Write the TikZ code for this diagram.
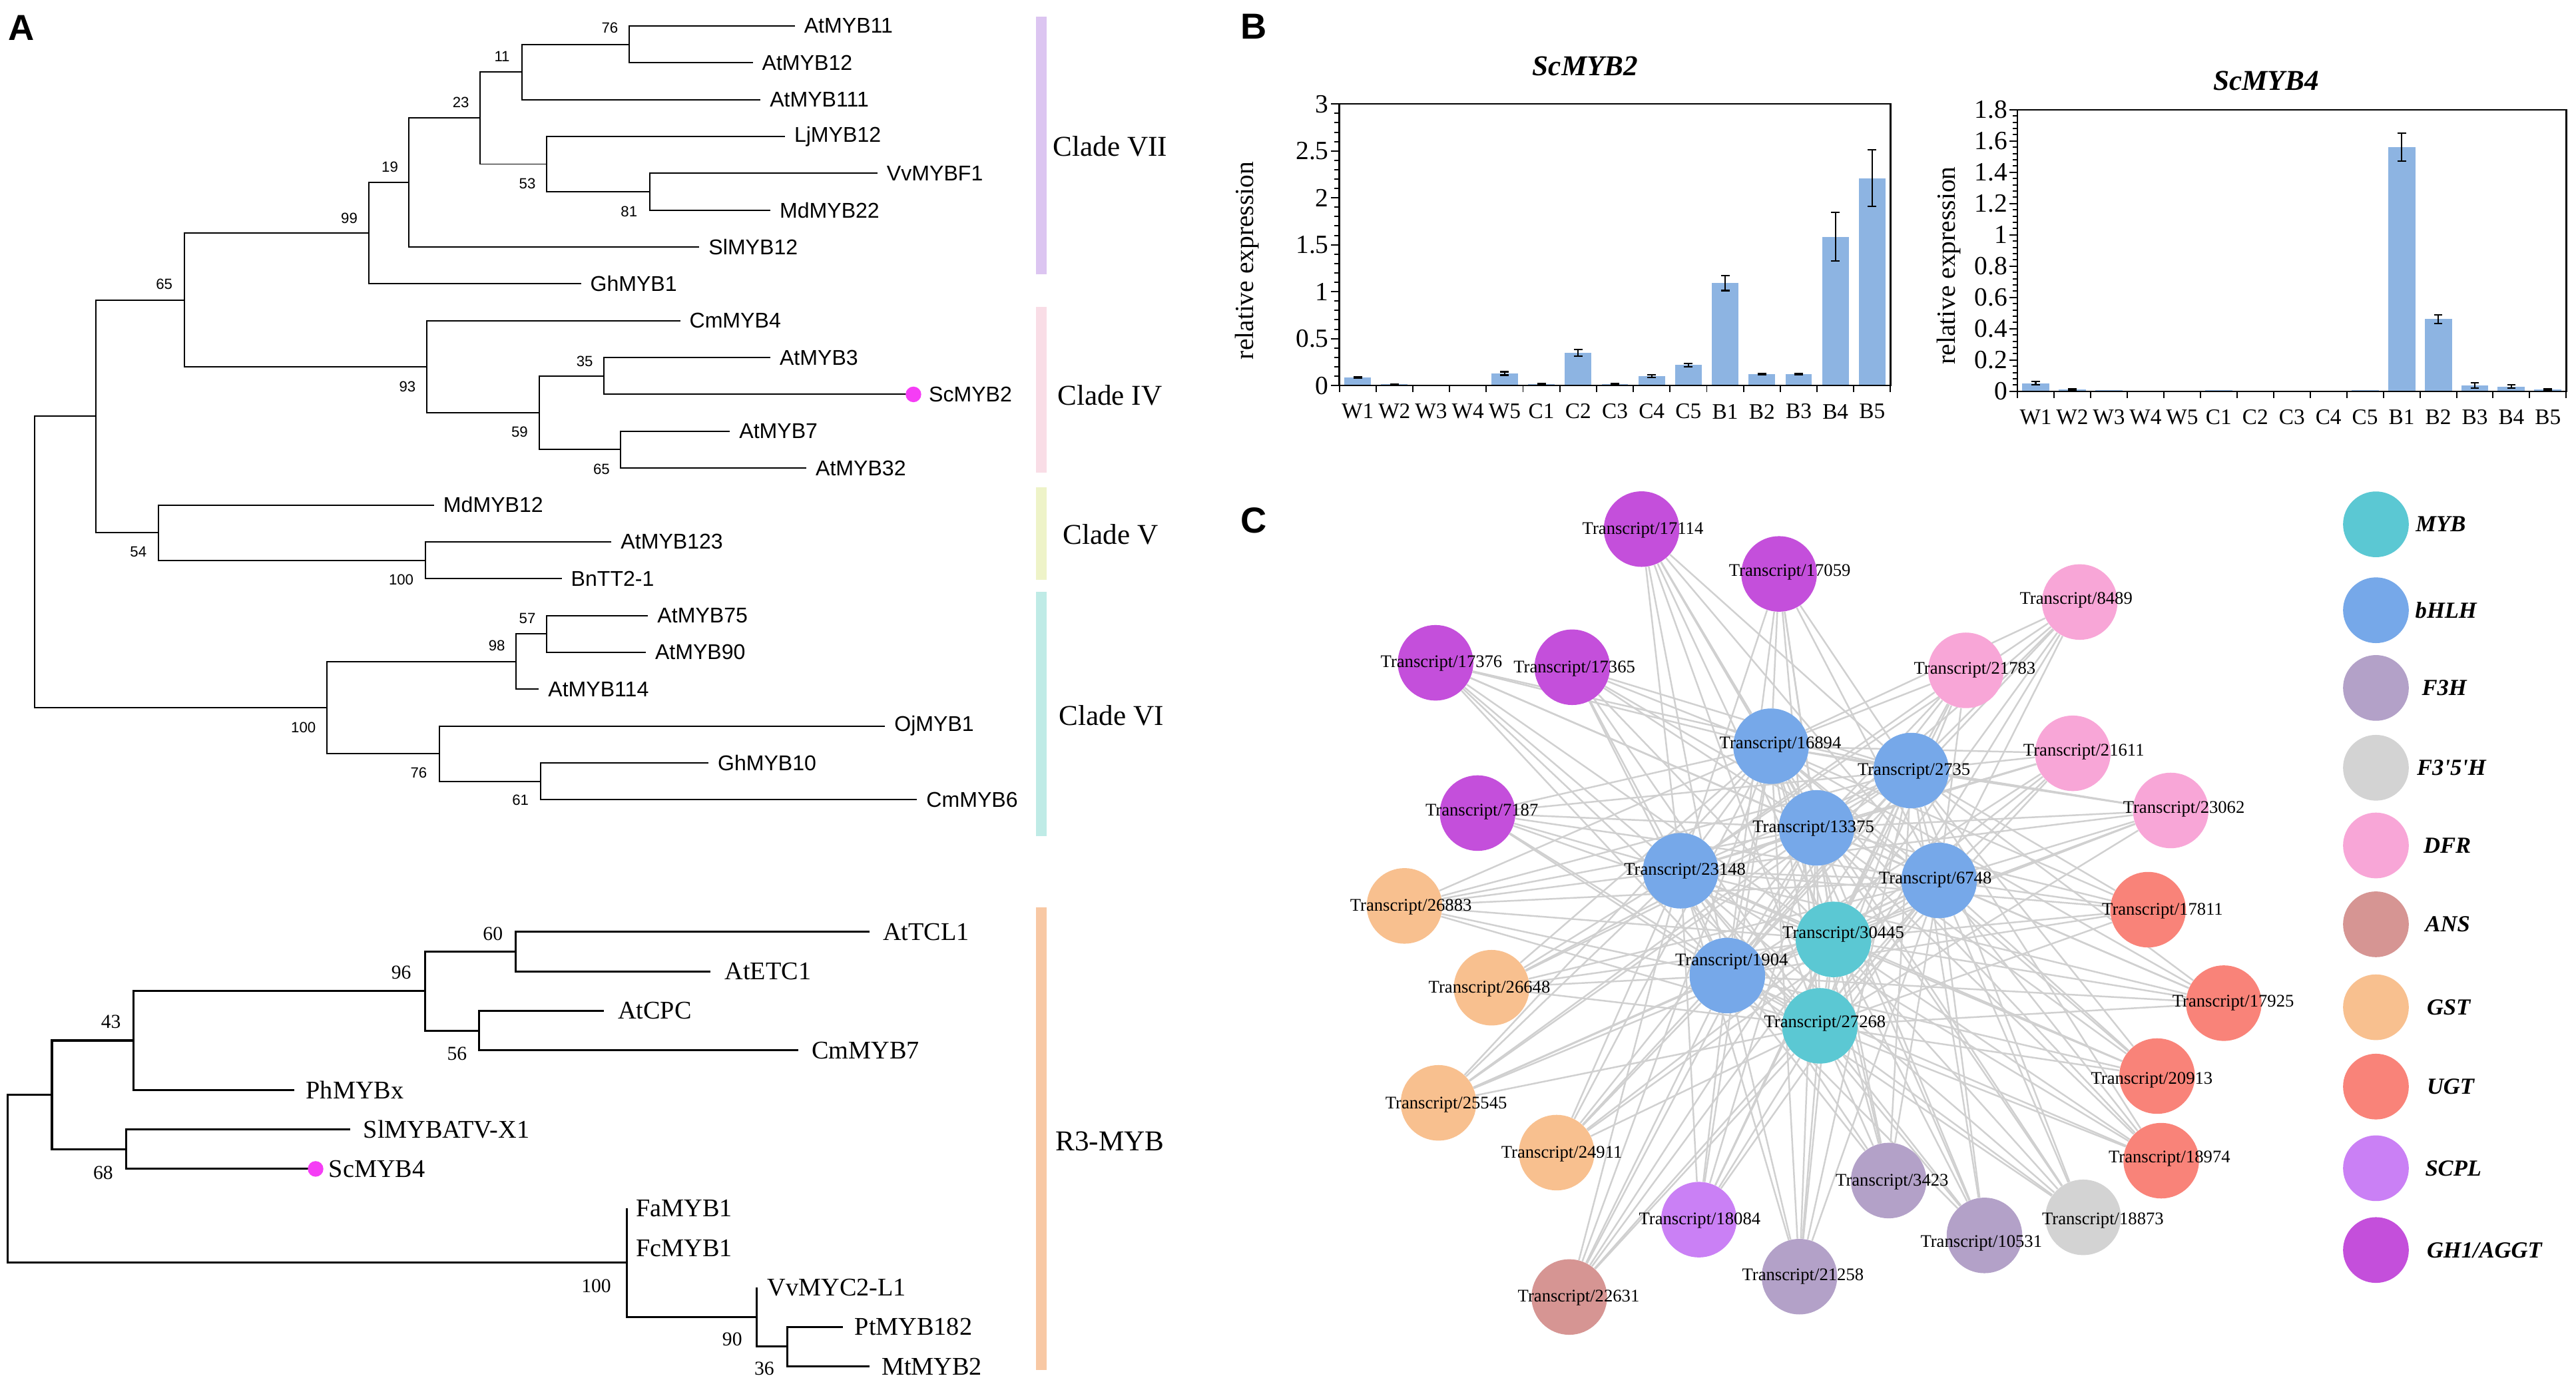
\documentclass[tikz,border=0pt]{standalone}
\usepackage{fontspec}
\setmainfont{Liberation Serif}
\newfontfamily\arialf{Liberation Sans}
\newfontfamily\timesplain{Liberation Serif}
\pgfdeclarelayer{edges}
\pgfsetlayers{edges,main}
\definecolor{cMYB}{HTML}{5BC8D3}
\definecolor{cbHLH}{HTML}{76A8E9}
\definecolor{cF3H}{HTML}{B3A1C8}
\definecolor{cFFH}{HTML}{D3D3D3}
\definecolor{cDFR}{HTML}{F8A6D7}
\definecolor{cANS}{HTML}{D69593}
\definecolor{cGST}{HTML}{F8C08F}
\definecolor{cUGT}{HTML}{F98379}
\definecolor{cSCPL}{HTML}{CA80F5}
\definecolor{cGH}{HTML}{C44FDB}
\definecolor{cVII}{HTML}{DCC5F1}
\definecolor{cIV}{HTML}{F9DDE6}
\definecolor{cV}{HTML}{EEF3C8}
\definecolor{cVI}{HTML}{BFEBE6}
\definecolor{cR3}{HTML}{F8C8A4}
\definecolor{barc}{HTML}{8DB4E2}
\definecolor{edgec}{HTML}{D0D0D0}
\definecolor{dotc}{HTML}{F53DF5}
\tikzset{
  tree/.style={line width=0.8pt},
  treeb/.style={line width=1.3pt},
  bsu/.style={font=\arialf\fontsize{9}{10}\selectfont, inner sep=0},
  leafu/.style={anchor=west, inner sep=0, font=\arialf\fontsize{13}{15}\selectfont},
  bsl/.style={font=\fontsize{12}{13}\selectfont, inner sep=0},
  leafl/.style={anchor=west, inner sep=0, font=\fontsize{15.5}{17}\selectfont},
  cladetxt/.style={font=\fontsize{17.5}{19}\selectfont, inner sep=0},
  panel/.style={font=\arialf\bfseries\fontsize{22}{24}\selectfont, inner sep=0},
  dotn/.style={circle, fill=dotc, inner sep=0, minimum size=9.5pt},
  ctitle/.style={font=\bfseries\itshape\fontsize{17.5}{19}\selectfont, inner sep=0},
  ytitle/.style={font=\fontsize{16}{18}\selectfont, inner sep=0, rotate=90},
  ylab/.style={font=\fontsize{16}{18}\selectfont, inner sep=0, anchor=east},
  xlab/.style={font=\fontsize{13.5}{15}\selectfont, inner sep=0},
  axisln/.style={line width=0.8pt},
  frameln/.style={line width=1pt},
  errb/.style={line width=0.9pt},
  netc/.style={circle, inner sep=0, minimum size=46pt},
  netl/.style={font=\fontsize{10.8}{12}\selectfont, inner sep=0},
  edge/.style={draw=edgec, line width=1pt},
  legc/.style={circle, inner sep=0, minimum size=40pt},
  legl/.style={font=\timesplain\bfseries\itshape\fontsize{14}{16}\selectfont, inner sep=0, anchor=west}
}
\begin{document}
\begin{tikzpicture}[x=1pt,y=-1pt]
\useasboundingbox (0,0) rectangle (1568,841);
\begin{pgfonlayer}{edges}
\fill[white] (0,0) rectangle (1568,841);
\end{pgfonlayer}

% ---------- panel letters
\node[panel] (labA) at (13,17) {A};
\node[panel] (labB) at (763,16) {B};
\node[panel] (labC) at (763,317) {C};

% ---------- upper tree
\coordinate (u0) at (483.8,15.8);
\coordinate (u1) at (458.2,38.2);
\coordinate (u2) at (462.9,60.7);
\coordinate (u3) at (477.8,83.1);
\coordinate (u4) at (534.1,105.5);
\coordinate (u5) at (468.9,128.0);
\coordinate (u6) at (425.7,150.4);
\coordinate (u7) at (353.6,172.8);
\coordinate (u8) at (414.0,195.2);
\coordinate (u9) at (468.9,217.7);
\coordinate (u10) at (556.0,240.1);
\coordinate (u11) at (444.3,262.5);
\coordinate (u12) at (490.8,285.0);
\coordinate (u13) at (264.2,307.4);
\coordinate (u14) at (372.2,329.8);
\coordinate (u15) at (341.9,352.3);
\coordinate (u16) at (394.5,374.7);
\coordinate (u17) at (393.1,397.1);
\coordinate (u18) at (328.0,419.5);
\coordinate (u19) at (538.7,442.0);
\coordinate (u20) at (431.2,464.4);
\coordinate (u21) at (558.2,486.8);

\coordinate (uA76) at (382.9,27.0);
\coordinate (uA11) at (317.7,43.85);
\coordinate (uA81) at (395.4,116.75);
\coordinate (uA53) at (332.6,99.9);
\coordinate (uA23) at (292.1,71.9);
\coordinate (uA19) at (248.9,111.15);
\coordinate (uA99) at (224.7,142);
\coordinate (uA35) at (367.5,228.9);
\coordinate (uA65b) at (377.7,273.75);
\coordinate (uA59) at (328.4,251.3);
\coordinate (uA93) at (259.6,223.25);
\coordinate (uA65) at (112.1,182.6);
\coordinate (uA100a) at (259.1,341.05);
\coordinate (uA54) at (96.3,324.2);
\coordinate (uTop) at (58.2,253.4);
\coordinate (uA57) at (332.6,385.9);
\coordinate (uA98) at (314.0,402.7);
\coordinate (uA61) at (328.9,475.6);
\coordinate (uA76b) at (267.5,458.8);
\coordinate (uA100b) at (199.1,430.75);
\coordinate (uRoot) at (20.9,342);

\draw[tree] (u0) -| (uA76) |- (u1);
\draw[tree] (uA76) -| (uA11) |- (u2);
\draw[tree] (u4) -| (uA81) |- (u5);
\draw[tree] (u3) -| (uA53) |- (uA81);
\draw[tree] (uA11) -| (uA23) |- (uA53);
\draw[tree] (uA23) -| (uA19) |- (u6);
\draw[tree] (uA19) -| (uA99) |- (u7);
\draw[tree] (u9) -| (uA35) |- (u10);
\draw[tree] (u11) -| (uA65b) |- (u12);
\draw[tree] (uA35) -| (uA59) |- (uA65b);
\draw[tree] (u8) -| (uA93) |- (uA59);
\draw[tree] (uA99) -| (uA65) |- (uA93);
\draw[tree] (u14) -| (uA100a) |- (u15);
\draw[tree] (u13) -| (uA54) |- (uA100a);
\draw[tree] (uA65) -| (uTop) |- (uA54);
\draw[tree] (u16) -| (uA57) |- (u17);
\draw[tree] (uA57) -| (uA98) |- (u18);
\draw[tree] (u20) -| (uA61) |- (u21);
\draw[tree] (u19) -| (uA76b) |- (uA61);
\draw[tree] (uA98) -| (uA100b) |- (uA76b);
\draw[tree] (uTop) -| (uRoot) |- (uA100b);

\node[dotn] (dot2) at (u10) {};

\node[leafu] (tu0) at (489.3,15.8) {AtMYB11};
\node[leafu] (tu1) at (463.7,38.2) {AtMYB12};
\node[leafu] (tu2) at (468.4,60.7) {AtMYB111};
\node[leafu] (tu3) at (483.3,83.1) {LjMYB12};
\node[leafu] (tu4) at (539.6,105.5) {VvMYBF1};
\node[leafu] (tu5) at (474.4,128.0) {MdMYB22};
\node[leafu] (tu6) at (431.2,150.4) {SlMYB12};
\node[leafu] (tu7) at (359.1,172.8) {GhMYB1};
\node[leafu] (tu8) at (419.5,195.2) {CmMYB4};
\node[leafu] (tu9) at (474.4,217.7) {AtMYB3};
\node[leafu] (tu10) at (565.2,240.1) {ScMYB2};
\node[leafu] (tu11) at (449.8,262.5) {AtMYB7};
\node[leafu] (tu12) at (496.3,285.0) {AtMYB32};
\node[leafu] (tu13) at (269.7,307.4) {MdMYB12};
\node[leafu] (tu14) at (377.7,329.8) {AtMYB123};
\node[leafu] (tu15) at (347.4,352.3) {BnTT2-1};
\node[leafu] (tu16) at (400.0,374.7) {AtMYB75};
\node[leafu] (tu17) at (398.6,397.1) {AtMYB90};
\node[leafu] (tu18) at (333.5,419.5) {AtMYB114};
\node[leafu] (tu19) at (544.2,442.0) {OjMYB1};
\node[leafu] (tu20) at (436.7,464.4) {GhMYB10};
\node[leafu] (tu21) at (563.7,486.8) {CmMYB6};

\node[bsu] (bu1) at (371.2,17.1) {76};
\node[bsu] (bu2) at (305.6,34.3) {11};
\node[bsu] (bu3) at (280.5,62.5) {23};
\node[bsu] (bu4) at (321,111.9) {53};
\node[bsu] (bu5) at (382.9,128.7) {81};
\node[bsu] (bu6) at (237.3,101.8) {19};
\node[bsu] (bu7) at (212.6,132.7) {99};
\node[bsu] (bu8) at (100,173) {65};
\node[bsu] (bu9) at (248,235.2) {93};
\node[bsu] (bu10) at (316.3,263.1) {59};
\node[bsu] (bu11) at (355.9,220) {35};
\node[bsu] (bu12) at (366.1,285.6) {65};
\node[bsu] (bu13) at (84.2,336) {54};
\node[bsu] (bu14) at (244.2,352.8) {100};
\node[bsu] (bu15) at (321,376.3) {57};
\node[bsu] (bu16) at (302.4,393.1) {98};
\node[bsu] (bu17) at (184.7,442.8) {100};
\node[bsu] (bu18) at (254.9,470.4) {76};
\node[bsu] (bu19) at (316.8,487.2) {61};

% ---------- lower tree
\coordinate (w0) at (529.4,567.3);
\coordinate (w1) at (432.6,591.35);
\coordinate (w2) at (367.5,615.4);
\coordinate (w3) at (486.1,639.45);
\coordinate (w4) at (179.1,663.5);
\coordinate (w5) at (213.1,687.55);
\coordinate (w6) at (192.1,711.6);
\coordinate (w7) at (381.5,735.65);
\coordinate (w8) at (381.5,759.7);
\coordinate (w9) at (460.5,783.75);
\coordinate (w10) at (513.1,807.8);
\coordinate (w11) at (529.4,831.85);
\coordinate (m60) at (314,579.3);
\coordinate (m56) at (291.7,627.4);
\coordinate (m96) at (258.7,603.35);
\coordinate (m43) at (81.4,633.4);
\coordinate (m68) at (76.8,699.6);
\coordinate (mA) at (31.6,666.5);
\coordinate (m36) at (479.2,819.8);
\coordinate (m90) at (460.5,801.8);
\coordinate (m100) at (381.5,768.7);
\coordinate (mRoot) at (4.65,717.6);

\draw[treeb] (w0) -| (m60) |- (w1);
\draw[treeb] (w2) -| (m56) |- (w3);
\draw[treeb] (m60) -| (m96) |- (m56);
\draw[treeb] (m96) -| (m43) |- (w4);
\draw[treeb] (w5) -| (m68) |- (w6);
\draw[treeb] (m43) -| (mA) |- (m68);
\draw[treeb] (w10) -| (m36) |- (w11);
\draw[treeb] (w9) -- (m90) |- (m36);
\draw[treeb] (w7) -- (m100) |- (m90);
\draw[treeb] (mA) -| (mRoot) |- (m100);

\node[dotn] (dot4) at (w6) {};

\node[leafl] (tw0) at (537.3,567.3) {AtTCL1};
\node[leafl] (tw1) at (441,591.35) {AtETC1};
\node[leafl] (tw2) at (375.9,615.4) {AtCPC};
\node[leafl] (tw3) at (494,639.45) {CmMYB7};
\node[leafl] (tw4) at (186.1,663.5) {PhMYBx};
\node[leafl] (tw5) at (221,687.55) {SlMYBATV-X1};
\node[leafl] (tw6) at (200,711.6) {ScMYB4};
\node[leafl] (tw7) at (387,735.65) {FaMYB1};
\node[leafl] (tw8) at (387,759.7) {FcMYB1};
\node[leafl] (tw9) at (467,783.75) {VvMYC2-L1};
\node[leafl] (tw10) at (520.1,807.8) {PtMYB182};
\node[leafl] (tw11) at (536.4,831.85) {MtMYB2};

\node[bsl] (bl1) at (300,568.5) {60};
\node[bsl] (bl2) at (244.2,591.9) {96};
\node[bsl] (bl3) at (278.2,641.6) {56};
\node[bsl] (bl4) at (67.5,622) {43};
\node[bsl] (bl5) at (62.8,714) {68};
\node[bsl] (bl6) at (362.9,782.8) {100};
\node[bsl] (bl7) at (445.7,815.2) {90};
\node[bsl] (bl8) at (465.2,833.3) {36};

% ---------- clade bars
\fill[cVII] (630.4,10.1) rectangle (636.9,167);
\fill[cIV] (630.4,186.8) rectangle (636.9,287.6);
\fill[cV] (630.4,296.7) rectangle (636.9,352.8);
\fill[cVI] (630.4,360.2) rectangle (636.9,509);
\fill[cR3] (630.4,552.2) rectangle (636.9,834.2);
\node[cladetxt] (cl7) at (675.7,89) {Clade VII};
\node[cladetxt] (cl4) at (675.5,240.5) {Clade IV};
\node[cladetxt] (cl5) at (676,325.2) {Clade V};
\node[cladetxt] (cl6) at (676.5,435.8) {Clade VI};
\node[cladetxt] (clr) at (675.6,694.7) {R3-MYB};

% ---------- panel B: ScMYB2
\node[ctitle] (tit2) at (965,40.4) {ScMYB2};
\node[ytitle] (yt2) at (758.9,158.7) {relative expression};
\foreach \v/\e [count=\i from 0] in {0.086/0.005,0.012/0.004,0/0,0/0,0.129/0.018,0.015/0.005,0.348/0.034,0.015/0.005,0.098/0.014,0.218/0.018,1.092/0.08,0.12/0.005,0.12/0.005,1.585/0.26,2.21/0.3}{
  \pgfmathsetmacro\cx{815.2+22.37*(\i+0.5)}
  \pgfmathsetmacro\tp{234.7-57.13*\v}
  \pgfmathsetmacro\eh{57.13*\e}
  \fill[barc] (\cx-8.1,234.7) rectangle (\cx+8.1,\tp);
  \ifdim \e pt>0pt
    \draw[errb] (\cx,\tp-\eh) -- (\cx,\tp+\eh);
    \draw[errb] (\cx-2.6,\tp-\eh) -- (\cx+2.6,\tp-\eh);
    \draw[errb] (\cx-2.6,\tp+\eh) -- (\cx+2.6,\tp+\eh);
  \fi
}
\draw[frameln] (815.2,63.3) rectangle (1150.7,234.7);
\foreach \k in {0,...,30}{
  \pgfmathsetmacro\yy{234.7-5.713*\k}
  \pgfmathsetmacro\tl{ifthenelse(mod(\k,5)==0,5,3)}
  \draw[axisln] (815.2,\yy) -- ++(-\tl,0);
}
\foreach \k in {0,...,15}{
  \draw[axisln] (815.2+22.37*\k,234.7) -- ++(0,4);
}
\foreach \t [count=\j] in {0,0.5,1,1.5,2,2.5,3}{
  \node[ylab] (ya\j) at (809,234.7-57.13*\t) {\t};
}
\foreach \s [count=\i from 0] in {W1,W2,W3,W4,W5,C1,C2,C3,C4,C5,B1,B2,B3,B4,B5}{
  \node[xlab] (xa\i) at (815.2+22.37*\i+11.185,250.5) {\s};
}

% ---------- panel B: ScMYB4
\node[ctitle] (tit4) at (1379.3,49.2) {ScMYB4};
\node[ytitle] (yt4) at (1186.4,161.7) {relative expression};
\foreach \v/\e [count=\i from 0] in {0.052/0.01,0.012/0.004,0.008/0,0.003/0,0.003/0,0.007/0,0.003/0,0.003/0,0.003/0,0.008/0,1.56/0.09,0.4615/0.028,0.037/0.018,0.03/0.01,0.012/0.004}{
  \pgfmathsetmacro\cx{1228.0+22.27*(\i+0.5)}
  \pgfmathsetmacro\tp{238.2-95.22*\v}
  \pgfmathsetmacro\eh{95.22*\e}
  \fill[barc] (\cx-8.3,238.2) rectangle (\cx+8.3,\tp);
  \ifdim \e pt>0pt
    \draw[errb] (\cx,\tp-\eh) -- (\cx,\tp+\eh);
    \draw[errb] (\cx-2.6,\tp-\eh) -- (\cx+2.6,\tp-\eh);
    \draw[errb] (\cx-2.6,\tp+\eh) -- (\cx+2.6,\tp+\eh);
  \fi
}
\draw[frameln] (1228.0,66.8) rectangle (1562.1,238.2);
\foreach \k in {0,...,45}{
  \pgfmathsetmacro\yy{238.2-3.809*\k}
  \pgfmathsetmacro\tl{ifthenelse(mod(\k,5)==0,5,3)}
  \draw[axisln] (1228.0,\yy) -- ++(-\tl,0);
}
\foreach \k in {0,...,15}{
  \draw[axisln] (1228.0+22.27*\k,238.2) -- ++(0,4);
}
\foreach \t [count=\j] in {0,0.2,0.4,0.6,0.8,1,1.2,1.4,1.6,1.8}{
  \node[ylab] (yb\j) at (1222,238.2-95.22*\t) {\t};
}
\foreach \s [count=\i from 0] in {W1,W2,W3,W4,W5,C1,C2,C3,C4,C5,B1,B2,B3,B4,B5}{
  \node[xlab] (xb\i) at (1228.0+22.27*\i+11.135,254) {\s};
}

% ---------- panel C: network
\def\periph{17114,17059,17376,17365,7187,8489,21783,21611,23062,17811,17925,20913,18974,26883,26648,25545,24911,3423,10531,21258,18873,18084,22631}
\def\hubs{16894,2735,13375,23148,6748,1904,30445,27268}
\foreach \n/\x/\y/\c in {
 17114/999.2/322.1/cGH, 17059/1082.9/349.4/cGH, 17376/873.8/403.5/cGH, 17365/957.0/406.2/cGH, 7187/899.4/495/cGH,
 8489/1265.9/366.5/cDFR, 21783/1196.6/408.1/cDFR, 21611/1261.7/458.6/cDFR, 23062/1321.3/493.4/cDFR,
 17811/1307.5/553.8/cUGT, 17925/1353.6/610.7/cUGT, 20913/1313/655.1/cUGT, 18974/1315.5/706.6/cUGT,
 26883/854.9/551.5/cGST, 26648/907.9/601.3/cGST, 25545/875.6/671.4/cGST, 24911/947.5/701.7/cGST,
 3423/1149.6/718.7/cF3H, 10531/1207.9/752.1/cF3H, 21258/1095.3/777.2/cF3H,
 18873/1268/741.1/cFFH, 18084/1034.1/742.5/cSCPL, 22631/955.2/789.6/cANS,
 16894/1078.0/454.3/cbHLH, 2735/1163.3/469.1/cbHLH, 13375/1105.7/504.0/cbHLH, 23148/1023/530.1/cbHLH,
 6748/1180.3/536/cbHLH, 1904/1051.4/593.9/cbHLH, 30445/1116/571.9/cMYB, 27268/1107.7/624.5/cMYB}{
  \node[netc, fill=\c] (n\n) at (\x,\y) {};
}
\foreach \n/\x/\y in {
 17114/1000/322.6, 17059/1089.4/348.5, 17376/877.4/404, 17365/958.3/407.1, 7187/902/494.4,
 8489/1263.7/365.4, 21783/1202/408, 21611/1268.4/457.8, 23062/1329.3/492.7,
 17811/1316.3/554.5, 17925/1359.3/610.7, 20913/1309.8/657.6, 18974/1320.5/705.2,
 26883/858.8/552.3, 26648/906.6/601.9, 25545/880.3/672.6, 24911/950.6/702.7,
 3423/1151.7/719.5, 10531/1206/757, 21258/1097.4/777.2,
 18873/1280/742.9, 18084/1034.6/743.1, 22631/960.9/790.2,
 16894/1083.7/453.4, 2735/1165/469.5, 13375/1103.8/504.4, 23148/1025.6/530.1,
 6748/1178/535.5, 1904/1054/585.3, 30445/1122/568.9, 27268/1110.8/623}{
  \node[netl] (l\n) at (\x,\y) {Transcript/\n};
}
\begin{pgfonlayer}{edges}
\foreach \p in \periph {
  \foreach \h in \hubs {
    \draw[edge] (n\p) -- (n\h);
  }
}
\foreach \a [count=\i] in \hubs {
  \foreach \b [count=\j] in \hubs {
    \ifnum\j>\i \draw[edge] (n\a) -- (n\b); \fi
  }
}
\end{pgfonlayer}

% ---------- legend
\node[legc, fill=cMYB] (gMYB) at (1446.2,319.2) {};
\node[legc, fill=cbHLH] (gbHLH) at (1446.2,371.5) {};
\node[legc, fill=cF3H] (gF3H) at (1446.2,418.8) {};
\node[legc, fill=cFFH] (gFFH) at (1446.2,467.4) {};
\node[legc, fill=cDFR] (gDFR) at (1446.2,514.7) {};
\node[legc, fill=cANS] (gANS) at (1446.2,562.7) {};
\node[legc, fill=cGST] (gGST) at (1446.2,613.2) {};
\node[legc, fill=cUGT] (gUGT) at (1446.2,661.5) {};
\node[legc, fill=cSCPL] (gSCPL) at (1446.2,711.2) {};
\node[legc, fill=cGH] (gGH) at (1446.2,761.0) {};
\node[legl] (tMYB) at (1470.3,319.2) {MYB};
\node[legl] (tbHLH) at (1470,371.5) {bHLH};
\node[legl] (tF3H) at (1474,418.8) {F3H};
\node[legl] (tFFH) at (1471,467.4) {F3'5'H};
\node[legl] (tDFR) at (1475,514.7) {DFR};
\node[legl] (tANS) at (1476,562.7) {ANS};
\node[legl] (tGST) at (1477,613.2) {GST};
\node[legl] (tUGT) at (1477,661.5) {UGT};
\node[legl] (tSCPL) at (1476,711.2) {SCPL};
\node[legl] (tGH) at (1477,761.0) {GH1/AGGT};
\end{tikzpicture}
\end{document}
